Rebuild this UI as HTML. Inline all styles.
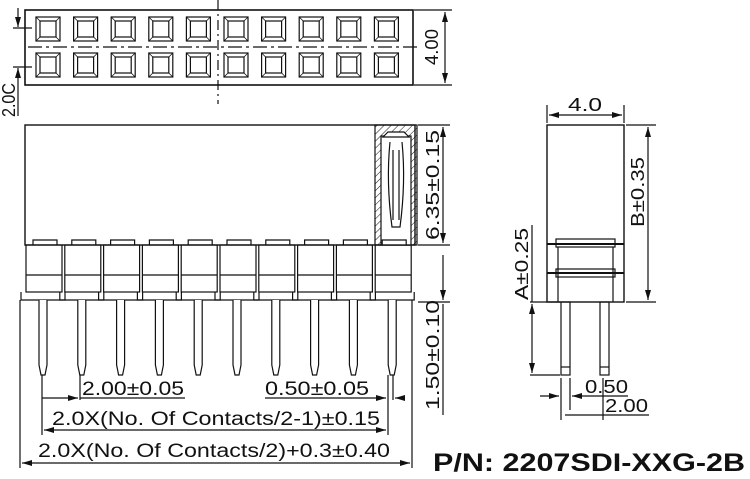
<!DOCTYPE html>
<html><head><meta charset="utf-8"><style>
html,body{margin:0;padding:0;background:#fff;}
svg{display:block;}
text{font-family:"Liberation Sans",sans-serif;fill:#111;stroke:none;}
</style></head><body>
<svg id="s" width="750" height="479" viewBox="0 0 750 479" xmlns="http://www.w3.org/2000/svg" stroke="#111" fill="none" stroke-width="1.2">
<defs>
<pattern id="h" width="5" height="5" patternUnits="userSpaceOnUse" patternTransform="rotate(45)"><line x1="0" y1="0" x2="0" y2="5" stroke="#111" stroke-width="1"/></pattern>
<marker id="a" markerWidth="10" markerHeight="6" refX="10" refY="3" orient="auto-start-reverse" markerUnits="userSpaceOnUse"><path d="M0,0 L10,3 L0,6 z" fill="#111" stroke="none"/></marker>
</defs>
<rect x="25" y="10" width="388" height="75" stroke-width="1.6"/>
<line x1="218" y1="0" x2="218" y2="104" stroke-dasharray="10,4,2,4"/>
<line x1="28" y1="47" x2="418" y2="47" stroke-dasharray="14,4,3,4"/>
<g id="sq"></g>
<line x1="414" y1="10" x2="452" y2="10"/><line x1="414" y1="85" x2="452" y2="85"/>
<line x1="445" y1="12" x2="445" y2="83" marker-start="url(#a)" marker-end="url(#a)"/>
<text transform="translate(438,47) rotate(-90)" font-size="18" text-anchor="middle" textLength="36" lengthAdjust="spacingAndGlyphs">4.00</text>
<line x1="13" y1="28" x2="32" y2="28"/><line x1="13" y1="67" x2="32" y2="67"/>
<line x1="18" y1="8" x2="18" y2="27" marker-end="url(#a)"/>
<line x1="18" y1="116" x2="18" y2="68" marker-end="url(#a)"/>
<text transform="translate(15,100) rotate(-90)" font-size="18" text-anchor="middle" textLength="34" lengthAdjust="spacingAndGlyphs">2.0C</text>
<rect x="25" y="125" width="390" height="120" stroke-width="1.4"/>
<rect x="375" y="125" width="42" height="120" fill="url(#h)"/>
<rect x="381" y="136" width="30" height="109" fill="#fff"/>
<path d="M388,132 h16 l5,5 h-26 z" fill="#fff"/>
<path d="M390,142 q-4,40 2,85 h8 q6,-45 2,-85" />
<path d="M393,150 v70 M399,150 v70"/>
<g id="mods"></g>
<line x1="418" y1="125" x2="450" y2="125"/><line x1="418" y1="245" x2="450" y2="245"/>
<line x1="443" y1="127" x2="443" y2="243" marker-start="url(#a)" marker-end="url(#a)"/>
<text transform="translate(439,185) rotate(-90)" font-size="18" text-anchor="middle" textLength="110" lengthAdjust="spacingAndGlyphs">6.35±0.15</text>
<line x1="418" y1="302" x2="450" y2="302"/>
<line x1="443" y1="255" x2="443" y2="300" marker-end="url(#a)"/>
<line x1="443" y1="415" x2="443" y2="304"/>
<text transform="translate(439,355) rotate(-90)" font-size="18" text-anchor="middle" textLength="110" lengthAdjust="spacingAndGlyphs">1.50±0.10</text>
<line x1="42" y1="375" x2="42" y2="435"/><line x1="80" y1="375" x2="80" y2="400"/>
<line x1="388" y1="375" x2="388" y2="435"/><line x1="393" y1="375" x2="393" y2="400"/>
<line x1="20" y1="300" x2="20" y2="468"/><line x1="412" y1="300" x2="412" y2="468"/>
<line x1="42" y1="398" x2="78" y2="398" marker-end="url(#a)"/>
<line x1="80" y1="398" x2="185" y2="398"/>
<line x1="265" y1="398" x2="386" y2="398" marker-end="url(#a)"/>
<line x1="405" y1="398" x2="395" y2="398" marker-end="url(#a)"/>
<text x="82" y="395" font-size="19" textLength="102" lengthAdjust="spacingAndGlyphs">2.00±0.05</text>
<text x="265" y="395" font-size="19" textLength="104" lengthAdjust="spacingAndGlyphs">0.50±0.05</text>
<line x1="44" y1="430" x2="386" y2="430" marker-start="url(#a)" marker-end="url(#a)"/>
<text x="52" y="425" font-size="19" textLength="328" lengthAdjust="spacingAndGlyphs">2.0X(No. Of Contacts/2-1)±0.15</text>
<line x1="22" y1="463" x2="410" y2="463" marker-start="url(#a)" marker-end="url(#a)"/>
<text x="38" y="457" font-size="19" textLength="352" lengthAdjust="spacingAndGlyphs">2.0X(No. Of Contacts/2)+0.3±0.40</text>
<text x="433" y="471" font-size="25" font-weight="bold" textLength="312" lengthAdjust="spacingAndGlyphs">P/N: 2207SDI-XXG-2B</text>
<rect x="547" y="125" width="77" height="177" stroke-width="1.4"/>
<rect x="556" y="239" width="59" height="8" fill="#fff"/>
<rect x="556" y="269" width="59" height="8" fill="#fff"/>
<line x1="547" y1="244" x2="624" y2="244" stroke-width="2"/>
<line x1="547" y1="273" x2="624" y2="273" stroke-width="2"/>
<line x1="558" y1="247" x2="558" y2="302"/><line x1="613" y1="247" x2="613" y2="302"/>
<rect x="561" y="302" width="9" height="73"/><rect x="600" y="302" width="9" height="73"/>
<line x1="561" y1="367" x2="570" y2="367"/><line x1="600" y1="367" x2="609" y2="367"/>
<line x1="547" y1="105" x2="547" y2="123"/><line x1="624" y1="105" x2="624" y2="123"/>
<line x1="549" y1="115" x2="622" y2="115" marker-start="url(#a)" marker-end="url(#a)"/>
<text x="568" y="111" font-size="18" textLength="34" lengthAdjust="spacingAndGlyphs">4.0</text>
<line x1="626" y1="125" x2="656" y2="125"/><line x1="626" y1="302" x2="656" y2="302"/>
<line x1="648" y1="127" x2="648" y2="300" marker-start="url(#a)" marker-end="url(#a)"/>
<text transform="translate(644,192) rotate(-90)" font-size="18" text-anchor="middle" textLength="70" lengthAdjust="spacingAndGlyphs">B±0.35</text>
<line x1="530" y1="302" x2="560" y2="302"/><line x1="530" y1="375" x2="560" y2="375"/>
<line x1="532" y1="304" x2="532" y2="373" marker-start="url(#a)" marker-end="url(#a)"/>
<line x1="532" y1="225" x2="532" y2="302"/>
<text transform="translate(528,264) rotate(-90)" font-size="18" text-anchor="middle" textLength="72" lengthAdjust="spacingAndGlyphs">A±0.25</text>
<line x1="561" y1="378" x2="561" y2="420"/><line x1="570" y1="378" x2="570" y2="410"/>
<line x1="540" y1="396" x2="559" y2="396" marker-end="url(#a)"/>
<line x1="590" y1="396" x2="572" y2="396" marker-end="url(#a)"/>
<line x1="590" y1="396" x2="628" y2="396"/>
<text x="585" y="393" font-size="18" textLength="43" lengthAdjust="spacingAndGlyphs">0.50</text>
<line x1="565" y1="415" x2="649" y2="415"/>
<line x1="603" y1="378" x2="603" y2="420"/>
<text x="605" y="412" font-size="18" textLength="43" lengthAdjust="spacingAndGlyphs">2.00</text>
</svg>
<script>
var ns="http://www.w3.org/2000/svg";
function el(p,t,a){var e=document.createElementNS(ns,t);for(var k in a)e.setAttribute(k,a[k]);p.appendChild(e);return e;}
var sq=document.getElementById("sq");
for(var i=0;i<10;i++){var x=36+i*37.6;
 [17,53].forEach(function(y){
  el(sq,"rect",{x:x,y:y,width:24,height:24});
  el(sq,"rect",{x:x+4,y:y+4,width:16,height:16});
  el(sq,"path",{d:"M"+x+","+y+"l4,4 M"+(x+24)+","+y+"l-4,4 M"+x+","+(y+24)+"l4,-4 M"+(x+24)+","+(y+24)+"l-4,-4","stroke-width":"0.8"});
 });}
var m=document.getElementById("mods");
for(var i=0;i<10;i++){var x=26+i*38.8,c=x+17;
 el(m,"rect",{x:x,y:245,width:36,height:47});
 el(m,"line",{x1:x,y1:275,x2:x+36,y2:275});
 el(m,"path",{d:"M"+(x+7)+",245 v-5 h24 v5"});
 el(m,"path",{d:"M"+(x-5)+",292 v8 h44 v-8"});
 el(m,"path",{d:"M"+(c-4)+",300 V365 l2,10 h4 l2,-10 V300",fill:"#fff"});
}
</script>
</body></html>
